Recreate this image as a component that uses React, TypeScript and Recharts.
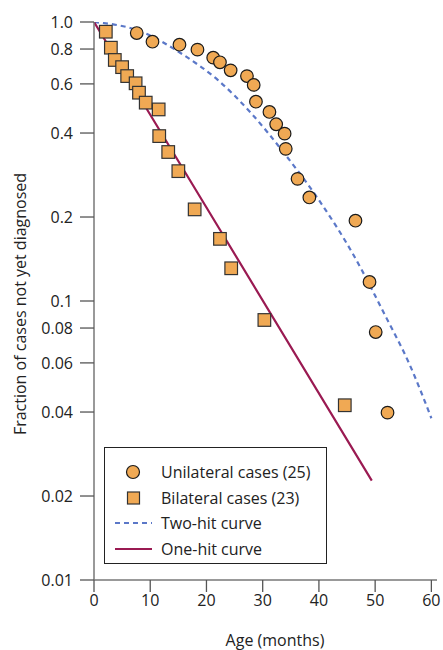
import React from 'react';
import { ComposedChart, Line, Scatter, XAxis, YAxis } from 'recharts';

// Unilateral cases (circles): age in months, fraction not yet diagnosed
const uniAge = [7.6, 10.4, 15.2, 18.4, 21.2, 22.4, 24.3, 27.2, 28.4, 28.8, 31.2, 32.4, 33.9, 34.1, 36.2, 38.3, 46.5, 49.0, 50.1, 52.2];
const uniFrac = [0.913, 0.85, 0.829, 0.796, 0.745, 0.717, 0.671, 0.64, 0.595, 0.518, 0.476, 0.43, 0.398, 0.351, 0.274, 0.235, 0.194, 0.117, 0.0774, 0.0398];

// Bilateral cases (squares)
const biAge = [2.1, 3.0, 3.7, 5.0, 5.9, 7.4, 8.0, 9.2, 11.5, 11.6, 13.2, 15.0, 17.9, 22.4, 24.4, 30.3, 44.6];
const biFrac = [0.923, 0.809, 0.731, 0.689, 0.64, 0.603, 0.558, 0.514, 0.486, 0.39, 0.342, 0.292, 0.213, 0.167, 0.131, 0.0855, 0.0423];

// Two-hit curve (dashed)
const twoHitAge = [0, 8, 16, 22, 28, 34, 40, 46, 52, 56, 60];
const twoHitFrac = [1.0, 0.93, 0.76, 0.62, 0.47, 0.335, 0.23, 0.148, 0.087, 0.06, 0.038];

// One-hit curve (solid)
const oneHitAge = [0, 22.4, 49.4];
const oneHitFrac = [1.0, 0.18, 0.0227];

const yTicks = [0.01, 0.02, 0.04, 0.06, 0.08, 0.1, 0.2, 0.4, 0.6, 0.8, 1.0];
const xTicks = [0, 10, 20, 30, 40, 50, 60];

const zip = (xs: number[], ys: number[]) => xs.map((x, i) => ({ x, y: ys[i] }));

const uniData = zip(uniAge, uniFrac);
const biData = zip(biAge, biFrac);
const twoHitData = zip(twoHitAge, twoHitFrac);
const oneHitData = zip(oneHitAge, oneHitFrac);

const ORANGE = '#F0A954';
const BLUE = '#5B78C8';
const MAROON = '#9A1A52';
const FONT = '"Open Sans", sans-serif';

const Circle = (props: any) => (
  <circle cx={props.cx} cy={props.cy} r={6.3} fill={ORANGE} stroke="#1a1a1a" strokeWidth={1.2} />
);

const Square = (props: any) => (
  <rect x={props.cx - 6.3} y={props.cy - 6.3} width={12.6} height={12.6} fill={ORANGE} stroke="#333" strokeWidth={1.2} />
);

const fmtY = (v: number) => (v === 1 ? '1.0' : String(v));

const legendItems = [
  { label: 'Unilateral cases (25)', icon: <circle cx={28} cy={9} r={6.5} fill={ORANGE} stroke="#1a1a1a" strokeWidth={1.2} /> },
  { label: 'Bilateral cases (23)', icon: <rect x={22.5} y={3} width={12} height={12} fill={ORANGE} stroke="#333" strokeWidth={1.2} /> },
  { label: 'Two-hit curve', icon: <line x1={10} x2={47} y1={9} y2={9} stroke={BLUE} strokeWidth={2.2} strokeDasharray="5 4" /> },
  { label: 'One-hit curve', icon: <line x1={10} x2={47} y1={9} y2={9} stroke={MAROON} strokeWidth={2.2} /> },
];

const LegendBox = () => (
  <div
    style={{
      position: 'absolute',
      left: 104,
      top: 447,
      width: 223,
      height: 117,
      border: '1.3px solid #222',
      boxSizing: 'border-box',
      background: '#fff',
      fontFamily: FONT,
      fontSize: 16,
      color: '#222',
      paddingTop: 11,
    }}
  >
    {legendItems.map((it) => (
      <div key={it.label} style={{ display: 'flex', alignItems: 'center', height: 25.8 }}>
        <svg width={56} height={18}>{it.icon}</svg>
        <span style={{ whiteSpace: 'nowrap' }}>{it.label}</span>
      </div>
    ))}
  </div>
);

const App: React.FC = () => {
  return (
    <div style={{ position: 'absolute', left: 0, top: 0, width: 443, height: 650, background: '#fff' }}>
      <ComposedChart width={443} height={650} margin={{ top: 22, right: 6, left: 0, bottom: 0 }}>
        <XAxis
          type="number"
          dataKey="x"
          domain={[0, 61]}
          ticks={xTicks}
          interval={0}
          allowDataOverflow
          height={70}
          tickSize={12}
          tickMargin={3}
          axisLine={{ stroke: '#777', strokeWidth: 1.5 }}
          tickLine={{ stroke: '#555', strokeWidth: 1.3 }}
          tick={{ fill: '#222', fontSize: 16, fontFamily: FONT }}
          label={{
            content: () => (
              <text x={275} y={640} textAnchor="middle" dominantBaseline="central" fill="#222" fontSize={16} fontFamily={FONT}>
                Age (months)
              </text>
            ),
          }}
        />
        <YAxis
          type="number"
          dataKey="y"
          scale="log"
          domain={[0.01, 1]}
          ticks={yTicks}
          interval={0}
          allowDataOverflow
          width={94}
          tickSize={14}
          tickMargin={7}
          tickFormatter={fmtY}
          axisLine={{ stroke: '#777', strokeWidth: 1.5 }}
          tickLine={{ stroke: '#555', strokeWidth: 1.3 }}
          tick={{ fill: '#222', fontSize: 16, fontFamily: FONT }}
          label={{
            content: () => (
              <text
                x={20}
                y={304}
                transform="rotate(-90, 20, 304)"
                textAnchor="middle"
                dominantBaseline="central"
                fill="#222"
                fontSize={16}
                fontFamily={FONT}
              >
                Fraction of cases not yet diagnosed
              </text>
            ),
          }}
        />
        <Line data={twoHitData} dataKey="y" type="monotone" stroke={BLUE} strokeWidth={2.2} strokeDasharray="5 4" dot={false} isAnimationActive={false} />
        <Line data={oneHitData} dataKey="y" type="linear" stroke={MAROON} strokeWidth={2.2} dot={false} isAnimationActive={false} />
        <Scatter data={biData} dataKey="y" shape={Square} isAnimationActive={false} />
        <Scatter data={uniData} dataKey="y" shape={Circle} isAnimationActive={false} />
      </ComposedChart>
      <LegendBox />
    </div>
  );
};

export default App;
